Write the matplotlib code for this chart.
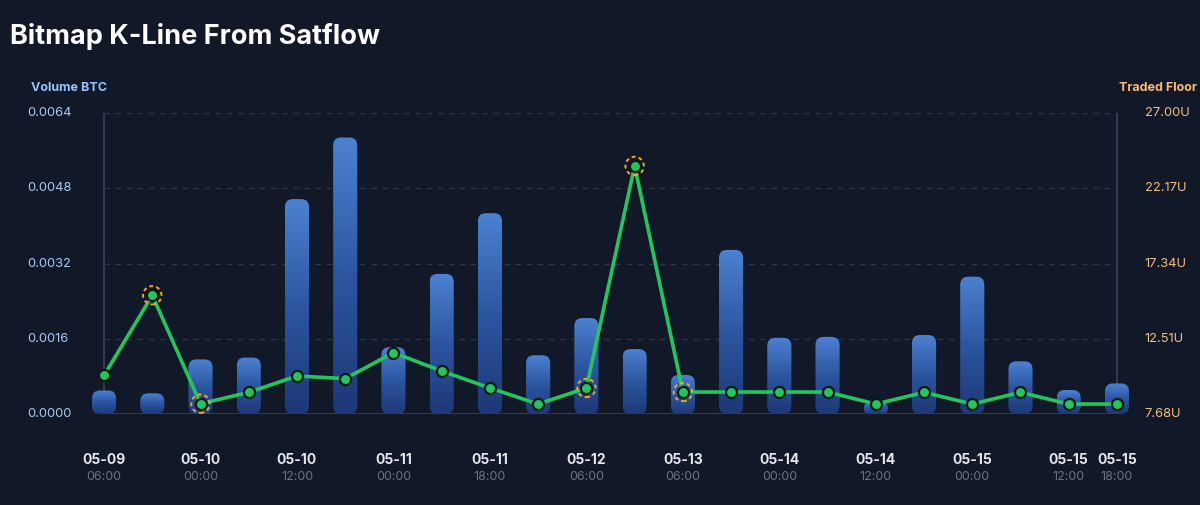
import matplotlib
matplotlib.use("Agg")
import matplotlib.pyplot as plt
import numpy as np
from matplotlib.patches import FancyBboxPatch
from matplotlib.colors import LinearSegmentedColormap
from matplotlib.transforms import blended_transform_factory

# data
volume_btc = [0.00050, 0.00044, 0.00116, 0.00120, 0.00457, 0.00588, 0.00142, 0.00298,
              0.00427, 0.00125, 0.00204, 0.00138, 0.00083, 0.00349, 0.00162, 0.00164,
              0.00024, 0.00168, 0.00292, 0.00112, 0.00051, 0.00065]
floor_u = [10.16, 15.30, 8.34, 9.07, 10.12, 9.95, 11.62, 10.44, 9.35, 8.32, 9.35,
           23.60, 9.09, 9.09, 9.09, 9.09, 8.32, 9.07, 8.32, 9.07, 8.32, 8.32]
highlight = [1, 2, 10, 11, 12]
tick_idx = [0, 2, 4, 6, 8, 10, 12, 14, 16, 18, 20, 21]
tick_date = ["05-09", "05-10", "05-10", "05-11", "05-11", "05-12", "05-13", "05-14",
             "05-14", "05-15", "05-15", "05-15"]
tick_time = ["06:00", "00:00", "12:00", "00:00", "18:00", "06:00", "06:00", "00:00",
             "12:00", "00:00", "12:00", "18:00"]
left_ticks = [0.0, 0.0016, 0.0032, 0.0048, 0.0064]
right_ticks = [7.68, 12.51, 17.34, 22.17, 27.00]

bg = "#111827"
plt.rcParams['font.family'] = ['Inter', 'DejaVu Sans']

fig = plt.figure(figsize=(12, 5.05), dpi=100, facecolor=bg)
ax = fig.add_axes([0.0666, 0.1802, 0.8843, 0.596])
ax.set_facecolor(bg)
n = len(volume_btc)
x = np.arange(n)
for s in ax.spines.values():
    s.set_visible(False)
ax.set_xticks([])
ax.set_yticks([])

# grid + frame
for t in left_ticks[1:]:
    ax.plot([0, n - 1], [t, t], color="#2a3444", lw=1, ls=(0, (4, 4)), zorder=1)
ax.plot([0, n - 1], [0, 0], color="#3a4456", lw=1.2, zorder=1)
ax.plot([0, 0], [0, 0.0064], color="#3a4456", lw=1.2, zorder=1)
ax.plot([n - 1, n - 1], [0, 0.0064], color="#3a4456", lw=1.2, zorder=1)

# gradient rounded bars
cmap = LinearSegmentedColormap.from_list("b", ["#1f3a7c", "#2f5aa8", "#5088dc"])
grad = np.linspace(0, 1, 256).reshape(-1, 1)
w = 0.5
px_x = 1013 / 21.0
px_y = 301 / 0.0064
aspect = px_x / px_y
for i, v in enumerate(volume_btc):
    r = min(8 / px_x, v / aspect / 2, w / 2)
    p = FancyBboxPatch((i - w / 2, 0), w, v,
                       boxstyle="round,pad=0,rounding_size=%f" % r,
                       mutation_aspect=aspect, lw=0, fc="none", zorder=2)
    ax.add_patch(p)
    im = ax.imshow(grad, cmap=cmap, aspect="auto", origin="lower",
                   extent=(i - w / 2, i + w / 2, 0, v), zorder=2, alpha=0.95)
    im.set_clip_path(p)
ax.set_xlim(-0.5, n - 0.5)
ax.set_ylim(0, 0.0064)

# line on second axis
ax2 = ax.twinx()
ax2.set_xlim(-0.5, n - 0.5)
ax2.set_ylim(7.68, 27.0)
ax2.axis("off")
ax2.plot(x, floor_u, color="#22c55e", lw=2.6, zorder=3, solid_capstyle="round")
ax2.plot(x, floor_u, "o", ms=8, mfc="#22c55e", mec="#0c1a14", mew=1.6, zorder=4)
ax2.scatter([x[i] for i in highlight], [floor_u[i] for i in highlight], s=175,
            facecolors="none", edgecolors="#f5a524", linewidths=1.4,
            linestyles=(0, (2, 1.6)), zorder=5)

# tick labels
tl = blended_transform_factory(fig.transFigure, ax.transData)
for t in left_ticks:
    ax.text(0.0225, t, "%.4f" % t, transform=tl, ha="left", va="center",
            color="#a9c8f2", fontsize=9.3)
tr = blended_transform_factory(fig.transFigure, ax2.transData)
for t in right_ticks:
    ax2.text(0.954, t, "%.2fU" % t, transform=tr, ha="left", va="center",
             color="#f2bd80", fontsize=9.3)

tx = blended_transform_factory(ax.transData, fig.transFigure)
for i, d, h in zip(tick_idx, tick_date, tick_time):
    ax.text(i, 0.089, d, transform=tx, ha="center", va="center", color="#e5e7eb",
            fontsize=10, fontweight="bold")
    ax.text(i, 0.056, h, transform=tx, ha="center", va="center", color="#6b7280",
            fontsize=9)

fig.text(0.0258, 0.8257, "Volume BTC", color="#93c5fd", fontsize=9,
         fontweight="bold", ha="left", va="center")
fig.text(0.9975, 0.8257, "Traded Floor", color="#fdba74", fontsize=9,
         fontweight="bold", ha="right", va="center")
fig.text(0.0083, 0.928, "Bitmap K-Line From Satflow", color="white", fontsize=19.5,
         fontweight="bold", ha="left", va="center")

fig.savefig("out.png", dpi=100, facecolor=bg)
